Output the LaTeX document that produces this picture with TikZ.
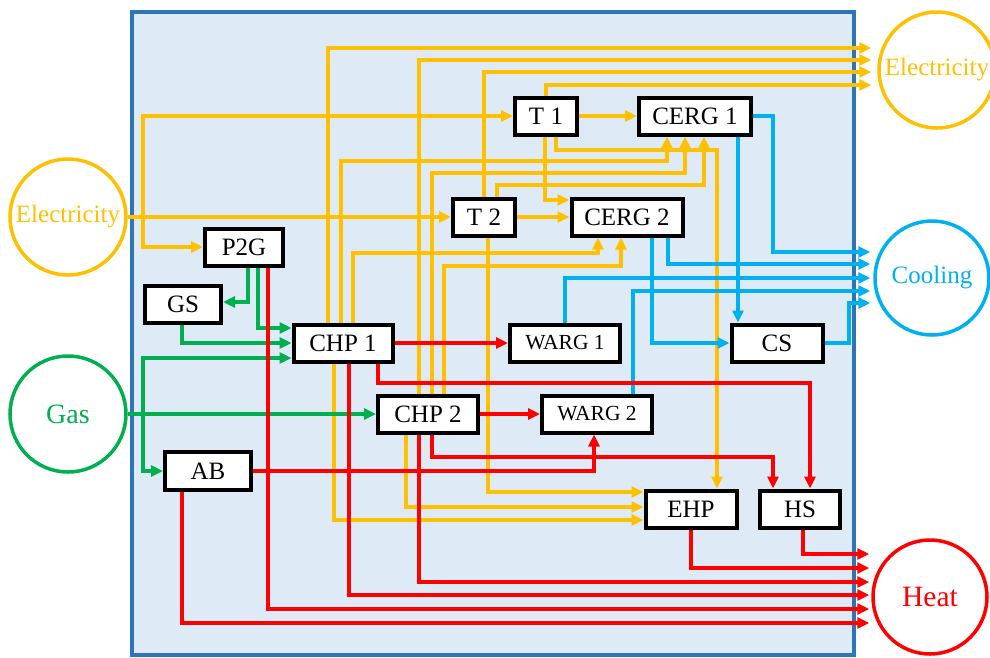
\documentclass[tikz,border=0pt]{standalone}
\usepackage{fontspec}
\setmainfont{Liberation Serif}
\usetikzlibrary{arrows.meta}

\definecolor{elecY}{HTML}{FFC000}
\definecolor{coolB}{HTML}{00B0F0}
\definecolor{gasG}{HTML}{00B050}
\definecolor{heatR}{HTML}{FF0000}
\definecolor{panel}{HTML}{DEEBF7}
\definecolor{panelEdge}{HTML}{2E75B6}

\begin{document}
\begin{tikzpicture}[x=1pt,y=-1pt,>={Triangle[length=12pt,width=11pt]},
    dev/.style={draw,line width=4pt,fill=white,inner sep=0pt,minimum height=37pt,font=\fontsize{25}{28}\selectfont},
    small/.style={font=\fontsize{21.5}{24}\selectfont},
    hub/.style={circle,draw=#1,text=#1,line width=3.5pt,fill=white,inner sep=0pt,font=\fontsize{25}{28}\selectfont},
    elec/.style={elecY,line width=3.5pt},
    cool/.style={coolB,line width=3.5pt},
    gasl/.style={gasG,line width=3.5pt},
    heatl/.style={heatR,line width=3.5pt}]

        \useasboundingbox (0,0) rectangle (990,657);
        \draw[panelEdge,fill=panel,line width=4pt] (132,12) rectangle (854,655);

        \node[dev,minimum width=62pt] (T1) at (546,116) {T 1};
        \node[dev,minimum width=112pt] (CERG1) at (695,116) {CERG 1};
        \node[dev,minimum width=62pt] (T2) at (484,217) {T 2};
        \node[dev,minimum width=111pt] (CERG2) at (627,217) {CERG 2};
        \node[dev,minimum width=78pt] (P2G) at (244,247) {P2G};
        \node[dev,minimum width=76pt] (GS) at (183,304) {GS};
        \node[dev,minimum width=99pt] (CHP1) at (343,343) {CHP 1};
        \node[dev,small,minimum width=110pt] (WARG1) at (565,343) {WARG 1};
        \node[dev,minimum width=91pt] (CS) at (777,343) {CS};
        \node[dev,minimum width=100pt] (CHP2) at (428,414) {CHP 2};
        \node[dev,small,minimum width=110pt] (WARG2) at (597,414) {WARG 2};
        \node[dev,minimum width=86pt,minimum height=38pt] (AB) at (208,471) {AB};
        \node[dev,minimum width=91pt] (EHP) at (691,509) {EHP};
        \node[dev,minimum width=80pt] (HS) at (800,509) {HS};

        \node[hub=elecY,minimum size=116pt] (ElecIn) at (68,217) {Electricity};
        \node[hub=gasG,minimum size=116pt,font=\fontsize{28}{30}\selectfont] (GasIn) at (68,414) {Gas};
        \node[hub=elecY,minimum size=116pt] (ElecOut) at (937,70) {Electricity};
        \node[hub=coolB,minimum size=114pt] (CoolOut) at (932,278) {Cooling};
        \node[hub=heatR,minimum size=114pt,font=\fontsize{29.5}{32}\selectfont] (HeatOut) at (930,597) {Heat};

        \coordinate (eSplit) at (143,217);
        \coordinate (gSplit) at (143,414);

        % electricity
        \draw[elec,->] (ElecIn.east) -- (T2.west);
        \draw[elec,->] (eSplit) |- (T1.west);
        \draw[elec,->] (eSplit) |- (P2G.west);

        \draw[elec,->] ([xshift=-15pt]CHP1.north) |- ([xshift=-6pt,yshift=22pt]ElecOut.west);
        \draw[elec,->] ([xshift=-9pt]CHP2.north) |- ([xshift=-6pt,yshift=10pt]ElecOut.west);
        \draw[elec,->] (T2.north) |- ([xshift=-6pt,yshift=-2pt]ElecOut.west);
        \draw[elec,->] (T1.north) |- ([xshift=-6pt,yshift=-15pt]ElecOut.west);

        \draw[elec,->] ([xshift=-2pt]CHP1.north) |- (667,161) -- ([xshift=-28pt]CERG1.south);
        \draw[elec,->] ([xshift=4pt]CHP2.north) |- (685,173) -- ([xshift=-10pt]CERG1.south);
        \draw[elec,->] ([xshift=13pt]T2.north) |- (704,185) -- ([xshift=9pt]CERG1.south);
        \draw[elec,->] ([xshift=10pt]CHP1.north) |- (598,253) -- ([xshift=-29pt]CERG2.south);
        \draw[elec,->] ([xshift=16pt]CHP2.north) |- (621,266) -- ([xshift=-6pt]CERG2.south);

        \draw[elec,->] (T1.east) -- (CERG1.west);
        \draw[elec,->] (T2.east) -- (CERG2.west);
        \draw[elec,->] ([xshift=-1pt]T1.south) |- ([yshift=17pt]CERG2.west);

        \draw[elec,->] ([xshift=10pt]T1.south) |- (717,150) -- ([xshift=26pt]EHP.north);
        \draw[elec,->] ([xshift=4pt]T2.south) |- ([yshift=17pt]EHP.west);
        \draw[elec,->] ([xshift=-22pt]CHP2.south) |- ([yshift=2pt]EHP.west);
        \draw[elec,->] ([xshift=-9pt]CHP1.south) |- ([yshift=-11pt]EHP.west);

        % cooling
        \draw[cool,->] (CERG1.east) -| (773,252) -- ([xshift=-3pt,yshift=26pt]CoolOut.west);
        \draw[cool,->] ([xshift=41pt]CERG2.south) |- ([xshift=-3pt,yshift=14pt]CoolOut.west);
        \draw[cool,->] (WARG1.north) |- ([xshift=-3pt]CoolOut.west);
        \draw[cool,->] ([xshift=36pt]WARG2.north) |- ([xshift=-3pt,yshift=-13pt]CoolOut.west);
        \draw[cool,->] (CS.east) -| (849,303) -- ([xshift=-3pt,yshift=-25pt]CoolOut.west);
        \draw[cool,->] ([xshift=43pt]CERG1.south) -- ([xshift=-39pt]CS.north);
        \draw[cool,->] ([xshift=25pt]CERG2.south) |- (CS.west);

        % gas
        \draw[gasl,->] (GasIn.east) -- (CHP2.west);
        \draw[gasl,->] (gSplit) |- ([yshift=-15pt]CHP1.west);
        \draw[gasl,->] (gSplit) |- (AB.west);
        \draw[gasl,->] ([xshift=4pt]P2G.south) |- ([yshift=2pt]GS.east);
        \draw[gasl,->] ([xshift=14pt]P2G.south) |- ([yshift=15pt]CHP1.west);
        \draw[gasl,->] ([xshift=-1pt]GS.south) |- (CHP1.west);

        % heat
        \draw[heatl,->] (CHP1.east) -- (WARG1.west);
        \draw[heatl,->] (CHP2.east) -- (WARG2.west);
        \draw[heatl,->] ([xshift=35pt]CHP1.south) |- (810,383) -- ([xshift=10pt]HS.north);
        \draw[heatl,->] ([xshift=4pt]CHP2.south) |- (773,457) -- ([xshift=-27pt]HS.north);
        \draw[heatl,->] (AB.east) -| ([xshift=-3pt]WARG2.south);

        \draw[heatl,->] ([xshift=3pt]HS.south) |- ([xshift=-2pt,yshift=43pt]HeatOut.west);
        \draw[heatl,->] (EHP.south) |- ([xshift=-2pt,yshift=29pt]HeatOut.west);
        \draw[heatl,->] ([xshift=-9pt]CHP2.south) |- ([xshift=-2pt,yshift=15pt]HeatOut.west);
        \draw[heatl,->] ([xshift=6pt]CHP1.south) |- ([xshift=-2pt,yshift=2pt]HeatOut.west);
        \draw[heatl,->] ([xshift=24pt]P2G.south) |- ([xshift=-2pt,yshift=-12pt]HeatOut.west);
        \draw[heatl,->] ([xshift=-26pt]AB.south) |- ([xshift=-2pt,yshift=-26pt]HeatOut.west);

\end{tikzpicture}
\end{document}
